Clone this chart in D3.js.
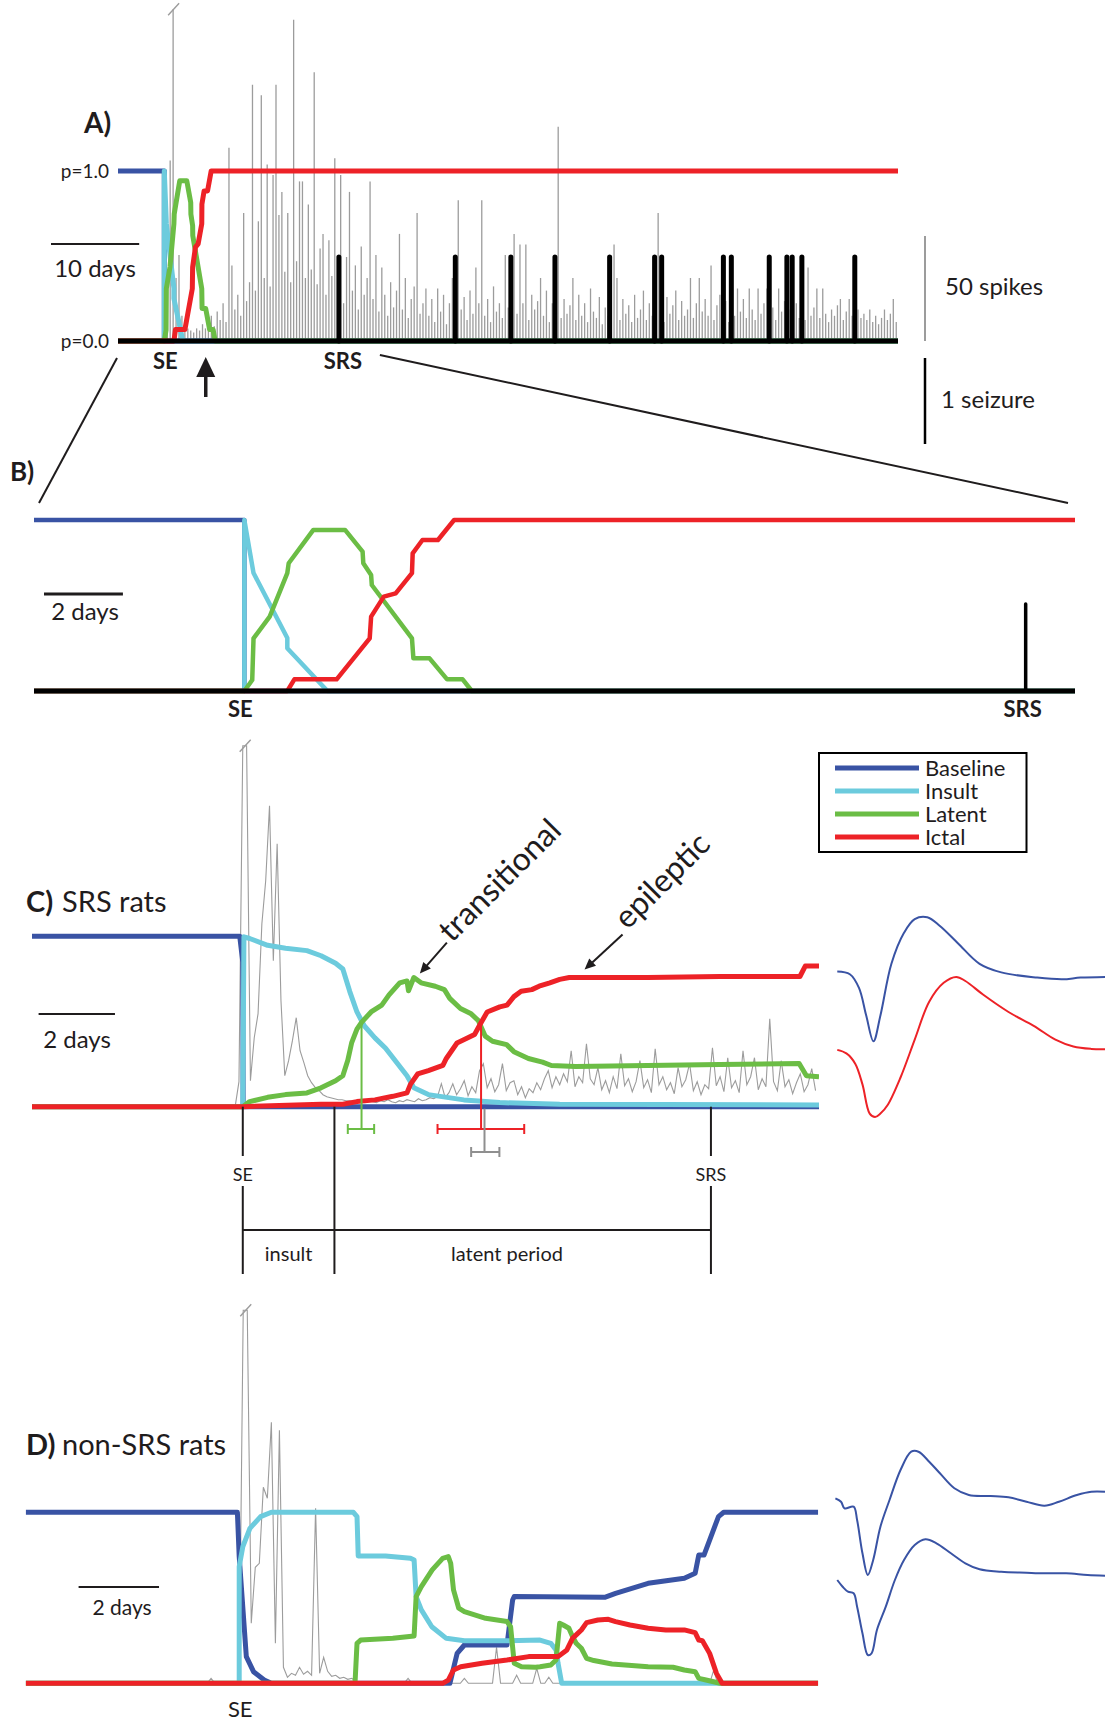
<!DOCTYPE html>
<html>
<head>
<meta charset="utf-8">
<script src="https://cdn.jsdelivr.net/npm/d3@7"></script>
<style>
  html, body { margin: 0; padding: 0; background: #fff; }
  svg { display: block; font-family: Lato, "Open Sans", sans-serif; }
</style>
</head>
<body>
<svg id="fig" width="1105" height="1722"></svg>
<script>
// ---------------------------------------------------------------------------
// Data. Time is in days relative to status epilepticus (SE).
// State probabilities are [day, p] pairs.
// ---------------------------------------------------------------------------

// Example SRS rat (panels A and B)
const baselineAB = [[-5.4,1],[0,1],[0,0],[84,0]];
const insultAB   = [[-5.4,0],[0,0],[0,1],[0.233,0.69],[1.089,0.31],[1.089,0.25],[2.106,0],[84,0]];
const latentAB   = [[-5.4,0],[0,0],[0.2,0.064],[0.233,0.308],[0.643,0.435],[1.089,0.689],[1.124,0.747],
                    [1.749,0.942],[2.552,0.942],[2.997,0.815],[3.015,0.747],[3.213,0.678],[3.23,0.62],
                    [4.248,0.308],[4.284,0.191],[4.694,0.191],[5.139,0.068],[5.532,0.068],[5.765,0],[84,0]];
const ictalAB    = [[-5.4,0],[1.089,0],[1.268,0.068],[2.339,0.068],[3.177,0.308],[3.213,0.435],[3.534,0.552],
                    [3.835,0.571],[4.248,0.689],[4.266,0.805],[4.514,0.883],[4.906,0.883],[5.316,1],[84,1]];

// Spontaneous recurrent seizures (day of each seizure)
const seizureDays = [19.8, 33.0, 39.3, 44.3, 50.5, 55.6, 56.4, 63.4, 64.3, 68.6, 70.6, 71.2, 72.3, 78.3];

// Interictal spike counts, one value per 1/3-day bin starting at SE
const spikeBinStartA = 0;
const spikeBinDaysA = 1 / 3;
const spikeCountsA = [
  0, 20, 86, 240, 30, 41, 12, 8, 6, 5,
  4, 6, 5, 8, 6, 9, 12, 7, 14, 10,
  18, 9, 92, 36, 15, 22, 12, 61, 19, 28,
  122, 24, 57, 117, 30, 84, 26, 79, 122, 60,
  71, 33, 61, 28, 153, 38, 76, 76, 30, 65,
  34, 128, 27, 44, 51, 22, 48, 31, 87, 26,
  79, 18, 40, 71, 24, 36, 15, 45, 22, 30,
  76, 20, 41, 14, 35, 22, 12, 28, 16, 24,
  51, 15, 30, 11, 20, 26, 61, 13, 18, 25,
  12, 20, 9, 25, 14, 22, 8, 18, 30, 12,
  67, 15, 21, 10, 24, 13, 35, 18, 67, 12,
  20, 9, 26, 14, 18, 11, 41, 16, 22, 51,
  13, 46, 18, 46, 10, 22, 15, 19, 30, 12,
  24, 9, 18, 14, 102, 11, 20, 13, 17, 30,
  10, 22, 12, 18, 9, 25, 14, 11, 21, 8,
  16, 12, 19, 46, 30, 10, 20, 13, 17, 9,
  22, 11, 15, 24, 10, 18, 12, 20, 61, 14,
  9, 21, 13, 17, 24, 10, 19, 12, 15, 30,
  11, 18, 30, 14, 20, 12, 36, 10, 17, 22,
  13, 19, 9, 16, 12, 25, 14, 20, 11, 25,
  15, 10, 25, 13, 18, 25, 12, 16, 10, 25,
  14, 19, 9, 15, 12, 18, 11, 14, 10, 35,
  12, 16, 25, 11, 25, 13, 9, 15, 12, 17,
  20, 10, 14, 20, 12, 9, 15, 11, 13, 10,
  15, 9, 12, 8, 11, 15, 10, 13, 20, 9, 25
];

// Average of SRS rats (panel C)
const baselineC = [[-5.52,1],[-0.08,1],[0,0.85],[0.01,0],[15.09,0]];
const insultC   = [[-5.52,0],[0,0],[0.03,0.997],[0.18,0.987],[0.65,0.947],[1.12,0.93],[1.68,0.916],[2.05,0.886],
                   [2.43,0.842],[2.62,0.808],[2.8,0.677],[2.99,0.556],[3.18,0.475],[3.46,0.404],[3.74,0.343],
                   [4.02,0.262],[4.3,0.182],[4.48,0.111],[4.86,0.071],[5.79,0.04],[6.73,0.024],[8.3,0.014],[15.09,0.01]];
const latentC   = [[-5.52,0],[0,0],[0.18,0.03],[0.65,0.055],[1.12,0.071],[1.68,0.081],[2.05,0.111],[2.43,0.152],
                   [2.62,0.182],[2.75,0.273],[2.85,0.374],[2.99,0.455],[3.11,0.495],[3.36,0.556],[3.64,0.596],
                   [3.83,0.656],[4.11,0.727],[4.3,0.738],[4.34,0.68],[4.48,0.758],[4.67,0.727],[5.04,0.707],
                   [5.28,0.687],[5.42,0.636],[5.7,0.576],[5.98,0.545],[6.17,0.505],[6.35,0.414],[6.54,0.384],
                   [6.91,0.364],[7.1,0.323],[7.48,0.283],[7.85,0.262],[8.08,0.242],[8.72,0.236],[10.6,0.242],
                   [12.49,0.248],[14.57,0.253],[14.76,0.182],[15.09,0.176]];
const ictalC    = [[-5.52,0],[0,0],[2.05,0.014],[2.62,0.014],[2.99,0.03],[3.46,0.04],[3.93,0.061],[4.3,0.081],
                   [4.39,0.131],[4.58,0.192],[4.86,0.212],[5.24,0.242],[5.33,0.283],[5.61,0.374],[5.8,0.394],
                   [6.07,0.424],[6.22,0.485],[6.4,0.556],[6.73,0.586],[6.92,0.596],[7.1,0.646],[7.29,0.677],
                   [7.57,0.687],[7.76,0.707],[8.04,0.727],[8.3,0.747],[8.55,0.758],[10.6,0.758],[12.49,0.764],
                   [14.59,0.764],[14.73,0.825],[15.09,0.825]];

// Spike rate trace for SRS rats, 0.1-day bins
const traceStartC = -0.2;
const traceBinC = 0.1;
const traceC = [
  0, 25, 400, 400, 26, 69, 93, 183, 226, 301, 146, 263, 106, 31, 46, 66, 89, 56, 44, 31,
  24, 19, 16, 12, 10, 9, 8, 7, 7, 6, 6, 5, 5, 5, 4, 6, 5, 4, 6, 5,
  7, 5, 4, 6, 5, 7, 6, 5, 8, 6, 7, 9, 8, 10, 23, 9, 14, 23, 12, 18,
  26, 11, 20, 14, 36, 43, 19, 28, 15, 22,
  43, 16, 24, 26, 12, 20, 9, 18, 14, 24,
  17, 28, 36, 19, 30, 22, 33, 25, 56, 20,
  30, 24, 63, 28, 22, 39, 17, 26, 14, 30,
  18, 53, 21, 28, 15, 25, 46, 19, 27, 14,
  58, 22, 30, 17, 24, 13, 39, 20, 27, 43,
  16, 25, 12, 22, 18, 59, 21, 30, 15, 49,
  19, 26, 14, 56, 22, 30, 49, 17, 28, 20,
  88, 25, 16, 46, 20, 27, 13, 24, 33, 15,
  22, 38, 16
];

// Transition times for SRS rats: [mean, low, high] in days
const latentOnsetC = [3.11, 2.75, 3.44];
const ictalOnsetC  = [6.24, 5.10, 7.37];
const spikeOnsetC  = [6.33, 5.98, 6.72];
const insultEndC = 2.40;
const srsOnsetC = 12.26;

// Average of non-SRS rats (panel D)
const baselineD = [[-5.31,1],[-0.045,1],[0,0.741],[0.177,0.156],[0.356,0.068],[0.622,0.019],[0.8,0],[5.24,0],
                   [5.42,0.175],[5.6,0.224],[6.66,0.224],[6.8,0.487],[6.84,0.507],[9.09,0.503],[9.36,0.526],
                   [10.17,0.585],[11.07,0.614],[11.34,0.643],[11.43,0.75],[11.56,0.75],[11.7,0.838],
                   [11.92,0.975],[12.05,1],[14.4,1]];
const insultD   = [[-5.31,0],[0,0],[0,0.682],[0.09,0.799],[0.266,0.906],[0.532,0.975],[0.8,1],[2.84,1],
                   [2.93,0.975],[2.96,0.745],[3.64,0.745],[4.26,0.731],[4.35,0.721],[4.4,0.507],[4.53,0.429],
                   [4.79,0.331],[5.15,0.263],[5.6,0.249],[6.66,0.249],[7.48,0.253],[7.75,0.234],[7.88,0.195],
                   [7.93,0.117],[8.02,0],[14.4,0]];
const latentD   = [[-5.31,0],[2.88,0],[2.93,0.234],[3.02,0.253],[3.82,0.263],[4.35,0.277],[4.4,0.507],
                   [4.53,0.565],[4.8,0.663],[5.06,0.731],[5.2,0.741],[5.26,0.702],[5.33,0.546],[5.46,0.439],
                   [5.6,0.419],[6.13,0.38],[6.66,0.361],[6.75,0.331],[6.84,0.117],[7.02,0.097],[7.37,0.094],
                   [7.48,0.097],[7.75,0.107],[7.88,0.136],[7.97,0.351],[8.06,0.341],[8.2,0.322],[8.29,0.273],
                   [8.38,0.234],[8.51,0.205],[8.64,0.146],[8.82,0.133],[9.27,0.113],[10.17,0.097],[10.79,0.094],
                   [11.07,0.078],[11.34,0.068],[11.43,0.029],[11.61,0.019],[11.96,0],[14.4,0]];
const ictalD    = [[-5.31,0],[5.06,0],[5.2,0.019],[5.33,0.078],[5.51,0.097],[6.04,0.117],[6.66,0.136],
                   [7.2,0.156],[7.93,0.156],[8.15,0.195],[8.29,0.263],[8.42,0.292],[8.51,0.312],[8.64,0.355],
                   [8.92,0.37],[9.18,0.374],[9.36,0.361],[9.72,0.341],[10.17,0.322],[10.61,0.312],[11.07,0.312],
                   [11.34,0.296],[11.43,0.253],[11.52,0.249],[11.7,0.175],[11.87,0.058],[12.01,0],[14.4,0]];

// Spike rate trace for non-SRS rats, 0.1-day bins
const traceStartD = -1.0;
const traceBinD = 0.1;
const traceD = [
  0, 0, 0, 5, 0, 0, 0, 0, 0, 0,
  0, 400, 400, 60, 116, 120, 196, 185, 261, 40,
  253, 16, 6, 10, 8, 16, 9, 12, 8, 175,
  10, 26, 12, 7, 8, 5, 6, 4, 5, 2,
  0, 0, 0, 0, 0, 0, 0, 0, 0, 0,
  0, 0, 5, 0, 0, 0, 0, 0, 0, 0,
  0, 0, 0, 0, 0, 0, 5, 0, 0, 0,
  0, 0, 0, 0, 36, 0, 0, 0, 0, 8,
  0, 0, 0, 0, 15, 0, 0, 6, 0, 0,
  0, 0, 0, 0, 0, 0, 0, 0, 0, 0,
  0, 0, 0, 0, 0, 0, 0, 0, 0, 0,
  0, 0, 0, 0, 0, 0, 0, 0, 0, 0,
  0, 0, 0, 0, 0, 0, 0, 0, 13, 0,
  0, 0, 0, 0, 0, 0, 0, 0, 0, 0, 0
];

// Average spike waveforms: [time (ms), amplitude]
const waveSRSbaseline = [[0.1,3.6],[4.8,0.8],[8.2,-12.9],[10.9,-40.5],[13.6,-66.3],[16.2,-40.5],[20.3,11.2],
  [25.0,42.2],[29.0,55.9],[33.7,57.7],[38.4,49],[45.1,31.8],[53.2,11.2],[61.3,2.6],[74.7,-2.6],[84.1,-4.3],
  [90.9,-2.6],[100,-1.9]];
const waveSRSictal = [[0.1,0.1],[3.5,-3.4],[6.8,-13.7],[9.5,-34.4],[12.2,-63.6],[14.2,-67],[16.2,-63.6],
  [18.9,-55],[23.7,-27.5],[29.0,10.4],[34.4,48.3],[39.8,67.2],[44.5,73.1],[47.9,69],[54.6,55.2],[64.0,38],
  [73.4,24.2],[81.5,10.4],[88.2,3.5],[94.9,1.1],[100,0.8]];
const waveNonSRSbaseline = [[-0.6,-1.3],[1.5,-4.7],[2.8,-11.3],[6.2,-9.7],[7.5,-23],[9.5,-56.3],[11.5,-78],
  [13.5,-63],[16.2,-29.7],[19.6,-3],[23.7,27],[27.7,45.3],[30.4,45.3],[34.4,35.3],[38.4,23.7],[43.8,8.7],
  [49.2,2],[57.3,1],[64.0,-0.3],[70.7,-4.7],[77.4,-8.7],[82.8,-4.7],[89.5,2],[94.9,5.3],[100,5.3]];
const waveNonSRSlate = [[0.1,-5],[2.1,-11.7],[4.1,-16.7],[6.2,-18.3],[7.5,-31.7],[9.5,-58.3],[11.5,-80],
  [12.9,-78.3],[14.9,-55],[18.2,-31.7],[21.6,-5],[25.0,15],[29.0,30],[33.0,35.7],[37.1,31.7],[42.5,21.7],
  [47.9,11.7],[53.2,5.7],[61.3,3.3],[70.7,2.3],[77.4,1.7],[85.5,1.7],[93.5,0],[100,-0.7]];

const legendLabels = ["Baseline", "Insult", "Latent", "Ictal"];

// ---------------------------------------------------------------------------
// Drawing
// ---------------------------------------------------------------------------
const COLORS = { Baseline: "#3953a4", Insult: "#6ccbdd", Latent: "#6bbd45", Ictal: "#ed2227" };
const INK = "#1f1c1d";
const TRACE = "#9c9c9c";

const svg = d3.select("#fig");
const defs = svg.append("defs");

function clipFor(id, x0, x1) {
  defs.append("clipPath").attr("id", id).append("rect")
    .attr("x", x0).attr("y", 0).attr("width", x1 - x0).attr("height", 1722);
  return `url(#${id})`;
}

function stateLine(g, data, x, y, color, width) {
  g.append("path").datum(data)
    .attr("fill", "none").attr("stroke", color).attr("stroke-width", width)
    .attr("stroke-linejoin", "round")
    .attr("d", d3.line().x(d => x(d[0])).y(d => y(d[1])));
}

// tick across the top of clipped peaks
function breakMarks(g, values, start, step, x, y, maxVal) {
  let i = 0;
  while (i < values.length) {
    if (values[i] > maxVal) {
      let j = i;
      while (j + 1 < values.length && values[j + 1] > maxVal) j++;
      const cx = (x(start + i * step) + x(start + j * step)) / 2;
      const top = y(maxVal);
      g.append("line")
        .attr("x1", cx - 5).attr("y1", top + 6).attr("x2", cx + 6).attr("y2", top - 6)
        .attr("stroke", TRACE).attr("stroke-width", 1.4);
      i = j + 1;
    } else i++;
  }
}

// continuous rate trace
function traceLine(g, values, start, step, x, y, maxVal) {
  const pts = values.map((v, i) => [start + i * step, Math.min(v, maxVal)]);
  g.append("path").datum(pts)
    .attr("fill", "none").attr("stroke", TRACE).attr("stroke-width", 1.1)
    .attr("d", d3.line().x(d => x(d[0])).y(d => y(d[1])));
  breakMarks(g, values, start, step, x, y, maxVal);
}

// binned counts drawn as vertical sticks
function traceSticks(g, values, start, step, x, y, maxVal) {
  g.append("g").selectAll("line").data(values).join("line")
    .attr("x1", (v, i) => x(start + i * step)).attr("x2", (v, i) => x(start + i * step))
    .attr("y1", y(0)).attr("y2", v => y(Math.min(v, maxVal)))
    .attr("stroke", TRACE).attr("stroke-width", 1.3);
  breakMarks(g, values, start, step, x, y, maxVal);
}

function text(x, y, s, size, opt = {}) {
  const t = svg.append("text").attr("x", x).attr("y", y).text(s)
    .attr("font-size", size).attr("fill", INK);
  if (opt.anchor) t.attr("text-anchor", opt.anchor);
  if (opt.bold) t.attr("font-weight", "bold");
  if (opt.rotate) t.attr("transform", `rotate(${opt.rotate},${x},${y})`);
  return t;
}

function seg(x1, y1, x2, y2, color, width, cap) {
  svg.append("line").attr("x1", x1).attr("y1", y1).attr("x2", x2).attr("y2", y2)
    .attr("stroke", color).attr("stroke-width", width).attr("stroke-linecap", cap || "butt");
}

function arrow(x1, y1, x2, y2, headLen, headW, width) {
  const a = Math.atan2(y2 - y1, x2 - x1);
  const bx = x2 - headLen * Math.cos(a), by = y2 - headLen * Math.sin(a);
  seg(x1, y1, bx + 0.5 * Math.cos(a), by + 0.5 * Math.sin(a), INK, width);
  const px = -Math.sin(a) * headW / 2, py = Math.cos(a) * headW / 2;
  svg.append("path")
    .attr("d", `M${x2},${y2}L${bx + px},${by + py}L${bx - px},${by - py}Z`)
    .attr("fill", INK);
}

function interp(data, day) {
  for (let k = 1; k < data.length; k++) {
    const [x0, y0] = data[k - 1], [x1, y1] = data[k];
    if (day >= x0 && day <= x1 && x1 > x0) return y0 + (y1 - y0) * (day - x0) / (x1 - x0);
  }
  return 0;
}

// ----------------------------- Panel A -------------------------------------
const xA = d3.scaleLinear().domain([-5.25, 83.2]).range([118, 898]);
const yA = d3.scaleLinear().domain([0, 1]).range([341, 171]);
const spikeA = d3.scaleLinear().domain([0, 50]).range([341, 236]);
const seizA = d3.scaleLinear().domain([0, 1]).range([341, 257]);

const gA = svg.append("g").attr("clip-path", clipFor("clipA", 118, 898));
traceSticks(gA, spikeCountsA, spikeBinStartA, spikeBinDaysA, xA, spikeA, 158);
stateLine(gA, baselineAB, xA, yA, COLORS.Baseline, 5);
stateLine(gA, insultAB, xA, yA, COLORS.Insult, 5);
stateLine(gA, latentAB, xA, yA, COLORS.Latent, 5);
stateLine(gA, ictalAB, xA, yA, COLORS.Ictal, 5);
seg(xA(-5.25), yA(0), xA(83.2), yA(0), "#000", 5);
seizureDays.forEach(d => seg(xA(d), seizA(0), xA(d), seizA(1), "#000", 5, "round"));

text(84, 133, "A)", 28, { bold: true });
text(109, 178, "p=1.0", 19, { anchor: "end" });
text(109, 348, "p=0.0", 19, { anchor: "end" });
seg(51, 244, 51 + (xA(10) - xA(0)), 244, INK, 2);
text(95, 277, "10 days", 24, { anchor: "middle" });
text(xA(0) + 1, 369, "SE", 22, { anchor: "middle", bold: true });
text(xA(seizureDays[0]) + 4, 369, "SRS", 22, { anchor: "middle", bold: true });
arrow(xA(4.7), 397, xA(4.7), 357, 20, 19, 3.5);

// scale bars
seg(925, spikeA(0), 925, spikeA(50), TRACE, 2);
text(945, 295, "50 spikes", 24);
seg(925, 358, 925, 358 + (seizA(0) - seizA(1)) + 2, "#000", 2.5);
text(941, 408, "1 seizure", 24);

// ----------------------------- Panel B -------------------------------------
const xB = d3.scaleLinear().domain([-5.33, 21.05]).range([34, 1075]);
const yB = d3.scaleLinear().domain([0, 1]).range([691, 520]);
const seizB = d3.scaleLinear().domain([0, 1]).range([691, 604]);

// expansion lines from A to B
seg(xA(-5.25) - 1, 358, xB(-5.33) + 5, 503, INK, 2);
seg(xA(seizureDays[0]) + 41, 355, xB(21.05) - 7, 503, INK, 2);

const gB = svg.append("g").attr("clip-path", clipFor("clipB", 34, 1075));
stateLine(gB, baselineAB, xB, yB, COLORS.Baseline, 4.5);
stateLine(gB, insultAB, xB, yB, COLORS.Insult, 4.5);
stateLine(gB, latentAB, xB, yB, COLORS.Latent, 4.5);
stateLine(gB, ictalAB, xB, yB, COLORS.Ictal, 4.5);
seg(xB(-5.33), yB(0), xB(21.05), yB(0), "#000", 5);
seizureDays.filter(d => d < 21.05).forEach(d =>
  seg(xB(d), seizB(0), xB(d), seizB(1), "#000", 3.5, "round"));

text(10, 481, "B)", 26, { bold: true });
seg(44, 594, 44 + (xB(2) - xB(0)), 594, INK, 3);
text(85, 620, "2 days", 24, { anchor: "middle" });
text(xB(0) - 4, 717, "SE", 22, { anchor: "middle", bold: true });
text(xB(seizureDays[0]) - 3, 717, "SRS", 22, { anchor: "middle", bold: true });

// ----------------------------- Panel C -------------------------------------
const xC = d3.scaleLinear().domain([-5.52, 15.09]).range([32, 819]);
const yC = d3.scaleLinear().domain([0, 1]).range([1106.7, 936.3]);
const traceYC = d3.scaleLinear().domain([0, 170]).range([1106.7, 936.7]);

const gC = svg.append("g").attr("clip-path", clipFor("clipC", 32, 819));
traceLine(gC, traceC, traceStartC, traceBinC, xC, traceYC, 361);
stateLine(gC, baselineC, xC, yC, COLORS.Baseline, 5);
stateLine(gC, insultC, xC, yC, COLORS.Insult, 5);
stateLine(gC, latentC, xC, yC, COLORS.Latent, 5);
stateLine(gC, ictalC, xC, yC, COLORS.Ictal, 5);

// onset error bars
function errorBar(stat, yTop, yBar, color) {
  seg(xC(stat[0]), yTop, xC(stat[0]), yBar, color, 2);
  seg(xC(stat[1]), yBar, xC(stat[2]), yBar, color, 2);
  seg(xC(stat[1]), yBar - 5, xC(stat[1]), yBar + 5, color, 2);
  seg(xC(stat[2]), yBar - 5, xC(stat[2]), yBar + 5, color, 2);
}
errorBar(latentOnsetC, yC(interp(latentC, latentOnsetC[0])), 1129, COLORS.Latent);
errorBar(ictalOnsetC, yC(interp(ictalC, ictalOnsetC[0])), 1129, COLORS.Ictal);
errorBar(spikeOnsetC, yC(0) + 2, 1152, "#8f8f8f");

// period brackets
[0, insultEndC, srsOnsetC].forEach((d, i) => {
  if (i === 1) {
    seg(xC(d), yC(0), xC(d), 1274, INK, 2);
  } else {
    seg(xC(d), yC(0), xC(d), 1156, INK, 2);
    seg(xC(d), 1186, xC(d), 1274, INK, 2);
  }
});
seg(xC(0), 1230, xC(srsOnsetC), 1230, INK, 2);
text(xC(0), 1181, "SE", 18, { anchor: "middle" });
text(xC(srsOnsetC), 1181, "SRS", 18, { anchor: "middle" });
text((xC(0) + xC(insultEndC)) / 2, 1261, "insult", 20, { anchor: "middle" });
text(507, 1261, "latent period", 20, { anchor: "middle" });

text(26, 912, "C)", 29, { bold: true });
text(62, 912, "SRS rats", 29);
seg(38.6, 1014, 38.6 + (xC(2) - xC(0)), 1014, INK, 2);
text(77, 1048, "2 days", 24, { anchor: "middle" });

// annotations
const peakLatent = [4.48, 0.758];
const tipT = [xC(peakLatent[0]) + 6, yC(peakLatent[1]) - 4];
arrow(tipT[0] + 27, tipT[1] - 31, tipT[0], tipT[1], 11, 10, 2);
text(tipT[0] + 32, tipT[1] - 30, "transitional", 32, { rotate: -45 });
const tipE = [xC(8.95), yC(interp(ictalC, 8.95)) - 8];
arrow(tipE[0] + 38, tipE[1] - 35, tipE[0], tipE[1], 11, 10, 2);
text(tipE[0] + 43, tipE[1] - 39, "epileptic", 32, { rotate: -45 });

// legend
svg.append("rect").attr("x", 819).attr("y", 753).attr("width", 207.5).attr("height", 99)
  .attr("fill", "#fff").attr("stroke", "#000").attr("stroke-width", 2);
legendLabels.forEach((lab, i) => {
  const y = 768 + i * 23;
  seg(835, y, 919, y, COLORS[lab], 5);
  text(925, y + 8, lab, 22);
});

// waveforms
const wx = d3.scaleLinear().domain([0, 100]).range([837, 1105]);
function wave(data, y0, color) {
  const wy = d3.scaleLinear().domain([0, 1]).range([y0, y0 - 1]);
  svg.append("path").datum(data).attr("fill", "none").attr("stroke", color).attr("stroke-width", 2)
    .attr("d", d3.line().curve(d3.curveCatmullRom.alpha(0.5)).x(d => wx(d[0])).y(d => wy(d[1])));
}
wave(waveSRSbaseline, 975, COLORS.Baseline);
wave(waveSRSictal, 1050, COLORS.Ictal);

// ----------------------------- Panel D -------------------------------------
const xD = d3.scaleLinear().domain([-5.31, 14.4]).range([25.7, 818.2]);
const yD = d3.scaleLinear().domain([0, 1]).range([1683.3, 1512.3]);
const traceYD = d3.scaleLinear().domain([0, 171]).range([1683.3, 1512.3]);

const gD = svg.append("g").attr("clip-path", clipFor("clipD", 25.7, 818.2));
traceLine(gD, traceD, traceStartD, traceBinD, xD, traceYD, 373);
stateLine(gD, baselineD, xD, yD, COLORS.Baseline, 5);
stateLine(gD, insultD, xD, yD, COLORS.Insult, 5);
stateLine(gD, latentD, xD, yD, COLORS.Latent, 5);
stateLine(gD, ictalD, xD, yD, COLORS.Ictal, 5);

text(26, 1455, "D)", 29, { bold: true });
text(62, 1455, "non-SRS rats", 29);
seg(78.6, 1587, 78.6 + (xD(2) - xD(0)), 1587, INK, 2);
text(122, 1615, "2 days", 21, { anchor: "middle" });
text(xD(0) + 1, 1717, "SE", 22, { anchor: "middle" });

wave(waveNonSRSbaseline, 1497, COLORS.Baseline);
wave(waveNonSRSlate, 1575, COLORS.Baseline);
</script>
</body>
</html>
